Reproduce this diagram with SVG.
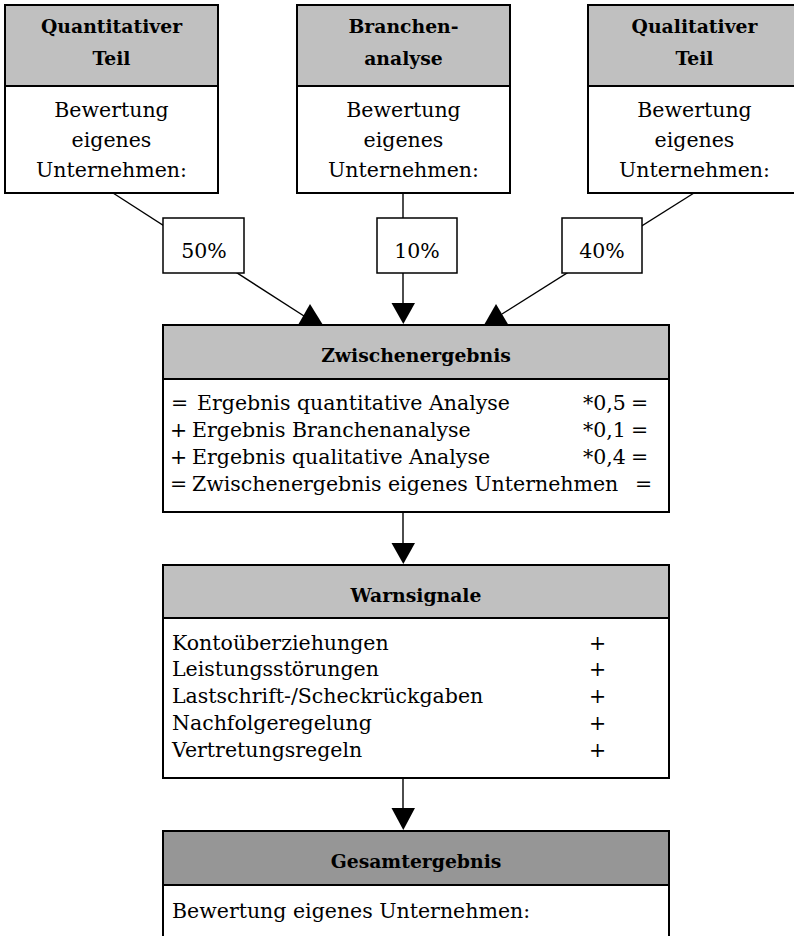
<svg xmlns="http://www.w3.org/2000/svg" width="794" height="936" viewBox="0 0 794 936">
<style>
  .box { fill: #ffffff; stroke: #000000; stroke-width: 2; }
  .hdr { fill: #c0c0c0; stroke: #000000; stroke-width: 2; }
  .hdr2 { fill: #969696; stroke: #000000; stroke-width: 2; }
  .pct { fill: #ffffff; stroke: #000000; stroke-width: 1.5; }
  .ln { stroke: #000000; stroke-width: 1.4; fill: none; }
  .ah { fill: #000000; stroke: none; }
  text { font-family: "DejaVu Serif", serif; fill: #000000; }
  .b { font-weight: bold; font-size: 18.8px; text-anchor: middle; }
  .r { font-size: 20.5px; }
  .c { text-anchor: middle; }
</style>

<g id="connectors">
  <line class="ln" x1="113" y1="193" x2="304" y2="316"/>
  <polygon class="ah" points="298,325 323,325 310,304"/>
  <line class="ln" x1="403" y1="193" x2="403" y2="305"/>
  <polygon class="ah" points="391.5,303 415,303 403.3,324"/>
  <line class="ln" x1="694" y1="193" x2="502" y2="314"/>
  <polygon class="ah" points="484,325 508.5,325 496,304"/>
  <line class="ln" x1="403" y1="512" x2="403" y2="545"/>
  <polygon class="ah" points="391.5,543 415,543 403.3,564"/>
  <line class="ln" x1="403" y1="778" x2="403" y2="810"/>
  <polygon class="ah" points="391.5,808 415,808 403.3,830"/>
</g>

<g id="quantitativ">
  <rect class="hdr" x="5" y="5" width="213" height="81"/>
  <rect class="box" x="5" y="86" width="213" height="107"/>
  <text class="b" x="111.5" y="33">Quantitativer</text>
  <text class="b" x="111.5" y="65">Teil</text>
  <text class="r c" x="111.5" y="117">Bewertung</text>
  <text class="r c" x="111.5" y="147">eigenes</text>
  <text class="r c" x="111.5" y="176.5">Unternehmen:</text>
</g>

<g id="branchen">
  <rect class="hdr" x="297" y="5" width="213" height="81"/>
  <rect class="box" x="297" y="86" width="213" height="107"/>
  <text class="b" x="403.5" y="33">Branchen-</text>
  <text class="b" x="403.5" y="65">analyse</text>
  <text class="r c" x="403.5" y="117">Bewertung</text>
  <text class="r c" x="403.5" y="147">eigenes</text>
  <text class="r c" x="403.5" y="176.5">Unternehmen:</text>
</g>

<g id="qualitativ">
  <rect class="hdr" x="588" y="5" width="213" height="81"/>
  <rect class="box" x="588" y="86" width="213" height="107"/>
  <text class="b" x="694.5" y="33">Qualitativer</text>
  <text class="b" x="694.5" y="65">Teil</text>
  <text class="r c" x="694.5" y="117">Bewertung</text>
  <text class="r c" x="694.5" y="147">eigenes</text>
  <text class="r c" x="694.5" y="176.5">Unternehmen:</text>
</g>

<g id="p50">
  <rect class="pct" x="163" y="218" width="81" height="55"/>
  <text class="r c" x="204" y="258">50%</text>
</g>
<g id="p10">
  <rect class="pct" x="377" y="218" width="80" height="55"/>
  <text class="r c" x="417" y="258">10%</text>
</g>
<g id="p40">
  <rect class="pct" x="562" y="218" width="80" height="55"/>
  <text class="r c" x="602" y="258">40%</text>
</g>

<g id="zwischenergebnis">
  <rect class="hdr" x="163" y="325" width="506" height="54"/>
  <rect class="box" x="163" y="379" width="506" height="133"/>
  <text class="b" x="416" y="362">Zwischenergebnis</text>
  <text class="r" y="410"><tspan x="171">=</tspan><tspan x="197">Ergebnis quantitative Analyse</tspan><tspan x="583">*0,5</tspan><tspan x="631">=</tspan></text>
  <text class="r" y="437"><tspan x="170">+</tspan><tspan x="192">Ergebnis Branchenanalyse</tspan><tspan x="583">*0,1</tspan><tspan x="631">=</tspan></text>
  <text class="r" y="463.5"><tspan x="170">+</tspan><tspan x="192">Ergebnis qualitative Analyse</tspan><tspan x="583">*0,4</tspan><tspan x="631">=</tspan></text>
  <text class="r" y="490.5"><tspan x="170">=</tspan><tspan x="192">Zwischenergebnis eigenes Unternehmen</tspan><tspan x="635">=</tspan></text>
</g>

<g id="warnsignale">
  <rect class="hdr" x="163" y="565" width="506" height="53"/>
  <rect class="box" x="163" y="618" width="506" height="160"/>
  <text class="b" x="416" y="601.5">Warnsignale</text>
  <text class="r" y="649.5"><tspan x="172">Kontoüberziehungen</tspan><tspan x="589">+</tspan></text>
  <text class="r" y="676"><tspan x="172">Leistungsstörungen</tspan><tspan x="589">+</tspan></text>
  <text class="r" y="703"><tspan x="172">Lastschrift-/Scheckrückgaben</tspan><tspan x="589">+</tspan></text>
  <text class="r" y="730"><tspan x="172">Nachfolgeregelung</tspan><tspan x="589">+</tspan></text>
  <text class="r" y="756.5"><tspan x="172">Vertretungsregeln</tspan><tspan x="589">+</tspan></text>
</g>

<g id="gesamtergebnis">
  <rect class="hdr2" x="163" y="831" width="506" height="54"/>
  <rect class="box" x="163" y="885" width="506" height="70"/>
  <text class="b" x="416" y="868">Gesamtergebnis</text>
  <text class="r" x="172" y="918">Bewertung eigenes Unternehmen:</text>
</g>
</svg>
